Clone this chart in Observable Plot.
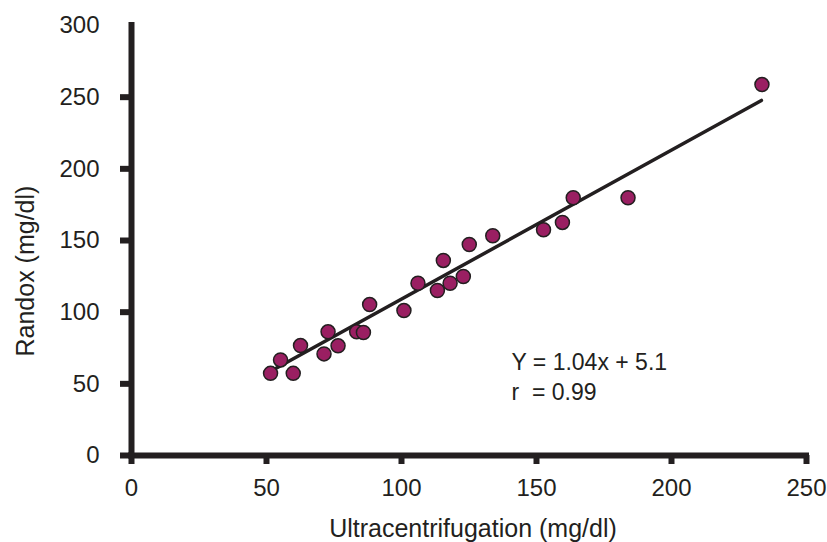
<!DOCTYPE html>
<html><head><meta charset="utf-8">
<script src="https://cdn.jsdelivr.net/npm/d3@7"></script>
<script src="https://cdn.jsdelivr.net/npm/@observablehq/plot@0.6"></script>
<style>body{margin:0;background:#fff}</style>
</head><body><div id="chart"></div>
<script>
const ultracentrifugation = [51.5, 55.2, 59.9, 62.6, 71.3, 72.8, 76.5, 83.4, 85.9, 88.2, 100.9, 106.1, 113.3, 115.5, 118.0, 122.9, 125.1, 133.8, 152.6, 159.6, 163.6, 183.9, 233.5];
const randox = [57.3, 66.7, 57.3, 76.7, 70.9, 86.3, 76.5, 86.3, 85.8, 105.3, 101.1, 120.2, 115.1, 136.1, 120.2, 124.9, 147.2, 153.3, 157.5, 162.6, 179.8, 179.8, 258.8];
const xTicks = [0, 50, 100, 150, 200, 250];
const yTicks = [0, 50, 100, 150, 200, 250];
const yTopLabel = [300];
const slope = 1.04, intercept = 5.1;
const fitRange = [53.4, 233.3];
const equationLines = ["Y = 1.04x + 5.1", "r\u00a0 = 0.99"];
const xTitle = "Ultracentrifugation (mg/dl)";
const yTitle = "Randox (mg/dl)";

const points = ultracentrifugation.map((x, i) => ({x, y: randox[i]}));
const fitLine = fitRange.map(x => ({x, y: slope * x + intercept}));
const ink = "#231f20";

const plot = Plot.plot({
  width: 827, height: 542,
  marginLeft: 131, marginRight: 21, marginTop: 25, marginBottom: 87,
  x: {domain: [0, 250], label: null},
  y: {domain: [0, 300], label: null},
  style: {fontFamily: "'Liberation Sans', Arial, sans-serif", fontSize: "24px", color: ink, background: "#fff"},
  marks: [
    Plot.axisX({ticks: xTicks, tickSize: 9, tickPadding: 14, strokeWidth: 6, label: null, fontSize: 24}),
    Plot.axisY({ticks: yTicks, tickSize: 11, tickPadding: 21, strokeWidth: 6, label: null, fontSize: 24}),
    Plot.axisY({ticks: yTopLabel, tickSize: 0, tickPadding: 32, label: null, fontSize: 24}),
    Plot.ruleY([0], {stroke: ink, strokeWidth: 6, strokeLinecap: "square"}),
    Plot.ruleX([0], {stroke: ink, strokeWidth: 6, strokeLinecap: "square"}),
    Plot.line(fitLine, {x: "x", y: "y", stroke: ink, strokeWidth: 3.5}),
    Plot.dot(points, {x: "x", y: "y", r: 7, fill: "#9a1f62", stroke: ink, strokeWidth: 1.5}),
    Plot.text([equationLines.join("\n")], {frameAnchor: "top-left", dx: 380, dy: 323, textAnchor: "start", lineAnchor: "top", lineHeight: 1.3, fontSize: 23, fill: ink}),
    Plot.text([xTitle], {frameAnchor: "bottom", dx: 4, dy: 64, lineAnchor: "top", fontSize: 25, fill: ink}),
    Plot.text([yTitle], {frameAnchor: "left", dx: -106, dy: 116, rotate: -90, lineAnchor: "middle", fontSize: 25, fill: ink})
  ]
});
document.getElementById("chart").appendChild(plot);
</script>
</body></html>
